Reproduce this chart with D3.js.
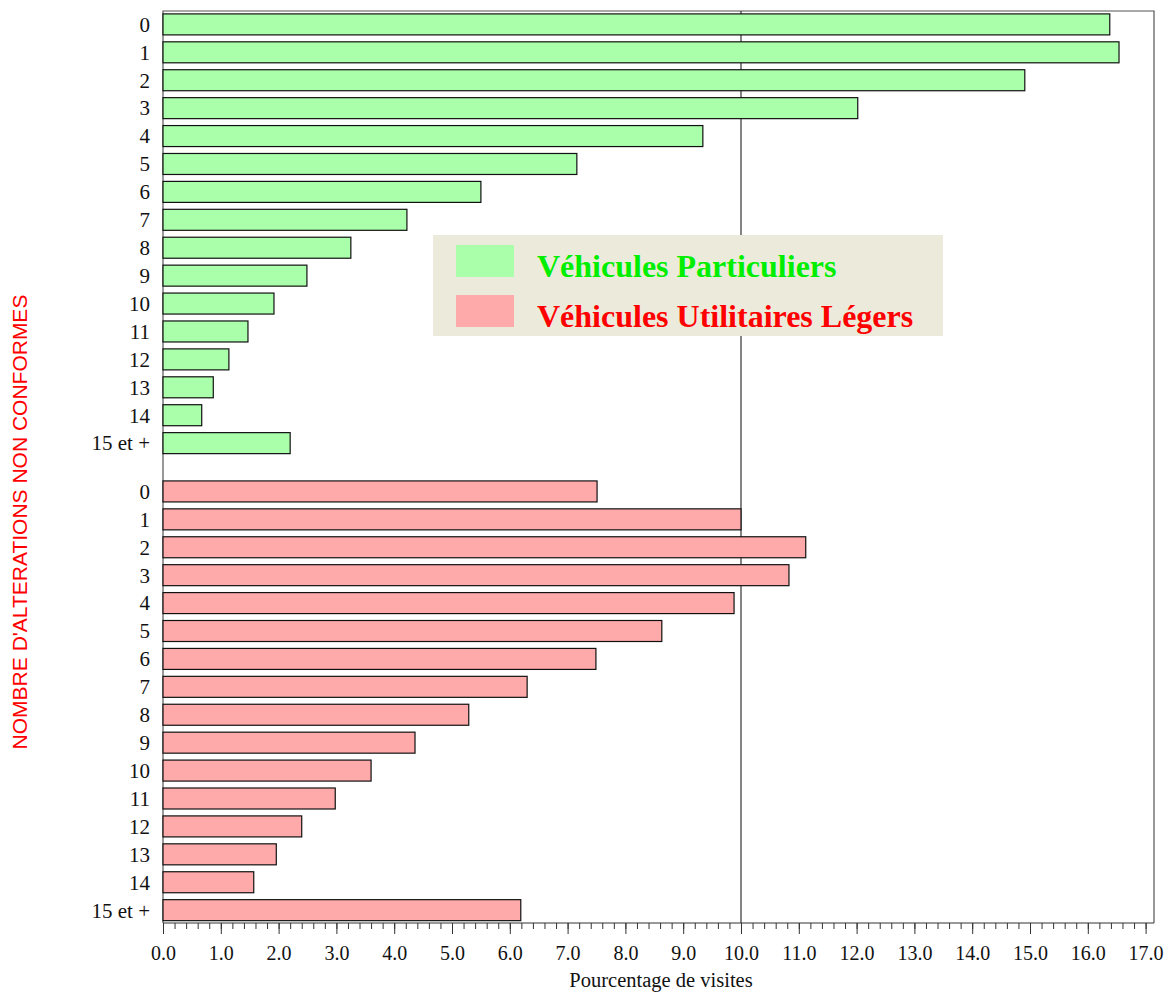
<!DOCTYPE html>
<html>
<head>
<meta charset="utf-8">
<script src="https://cdn.jsdelivr.net/npm/d3@7"></script>
<style>
  body { margin: 0; background: #fff; }
  .tick text { font-family: "Liberation Serif", "Times New Roman", serif; }
</style>
</head>
<body>
<div id="chart"></div>
<script>
var categories = ['0', '1', '2', '3', '4', '5', '6', '7', '8', '9', '10', '11', '12', '13', '14', '15 et +']
var vpValues = [16.38, 16.54, 14.91, 12.02, 9.34, 7.16, 5.50, 4.22, 3.25, 2.49, 1.92, 1.47, 1.14, 0.87, 0.67, 2.20]
var vulValues = [7.51, 10.0, 11.12, 10.83, 9.88, 8.63, 7.49, 6.30, 5.29, 4.36, 3.60, 2.98, 2.40, 1.96, 1.57, 6.19]
var xTicks = d3.range(0, 18, 1)
var seriesNames = ['Véhicules Particuliers', 'Véhicules Utilitaires Légers']

var W = 1169, H = 993
var margin = { top: 11, right: 15, bottom: 70, left: 163 }
var GAP = 0.73 // extra space between the two groups, in rows

var svg = d3.select('#chart').append('svg')
  .attr('width', W)
  .attr('height', H)

var x = d3.scaleLinear().domain([0, 17]).range([margin.left, margin.left + 17 * 57.8])
var y = d3.scaleLinear()
  .domain([-0.48, 2 * categories.length - 1 + GAP + 0.46])
  .range([margin.top, H - margin.bottom])

var barH = 21
var rows = []
categories.forEach(function (c, i) {
  rows.push({ cat: c, v: vpValues[i], pos: i, s: 0 })
})
categories.forEach(function (c, i) {
  rows.push({ cat: c, v: vulValues[i], pos: categories.length + GAP + i, s: 1 })
})
var fills = ['#aaffaa', '#ffaaaa']
var textColors = ['#00ee00', '#ff0000']

var right = 1154
var bottom = H - margin.bottom

// frame
svg.append('path')
  .attr('d', 'M' + margin.left + ',' + bottom + 'V' + margin.top + 'H' + right + 'V' + bottom)
  .attr('fill', 'none')
  .attr('stroke', '#555')
  .attr('stroke-width', 1.2)

// reference line at 10
svg.append('line')
  .attr('x1', x(10)).attr('x2', x(10))
  .attr('y1', margin.top).attr('y2', bottom)
  .attr('stroke', '#333')
  .attr('stroke-width', 1.2)

// bars
svg.append('g').selectAll('rect')
  .data(rows)
  .join('rect')
  .attr('x', x(0))
  .attr('y', function (d) { return y(d.pos) - barH / 2 })
  .attr('width', function (d) { return x(d.v) - x(0) })
  .attr('height', barH)
  .attr('fill', function (d) { return fills[d.s] })
  .attr('stroke', '#111')
  .attr('stroke-width', 1.2)

// category labels
svg.append('g').selectAll('text')
  .data(rows)
  .join('text')
  .attr('x', 150)
  .attr('y', function (d) { return y(d.pos) })
  .attr('dy', '0.35em')
  .attr('text-anchor', 'end')
  .attr('font-family', '"Liberation Serif", "Times New Roman", serif')
  .attr('font-size', 21)
  .attr('fill', '#111')
  .text(function (d) { return d.cat })

// x axis with minor ticks
var gx = svg.append('g').attr('transform', 'translate(0,' + bottom + ')')
gx.call(d3.axisBottom(x).tickValues(d3.range(0, 17.01, 0.2)).tickSize(6).tickFormat(''))
gx.call(function (g) { g.select('.domain').remove() })
var gx2 = svg.append('g').attr('transform', 'translate(0,' + bottom + ')')
gx2.call(d3.axisBottom(x).tickValues(xTicks).tickSize(11).tickPadding(12).tickFormat(d3.format('.1f')))
gx2.select('.domain').attr('d', 'M' + margin.left + ',0H' + right).attr('stroke', '#333')
svg.selectAll('.tick line').attr('stroke', '#333')
gx2.selectAll('.tick text').attr('font-size', 20).attr('fill', '#111')

svg.append('text')
  .attr('x', 661)
  .attr('y', 987)
  .attr('text-anchor', 'middle')
  .attr('font-family', '"Liberation Serif", "Times New Roman", serif')
  .attr('font-size', 20.5)
  .attr('fill', '#111')
  .text('Pourcentage de visites')

svg.append('text')
  .attr('transform', 'translate(27,' + 522 + ') rotate(-90)')
  .attr('text-anchor', 'middle')
  .attr('font-family', '"Liberation Sans", Arial, sans-serif')
  .attr('font-size', 21)
  .attr('fill', '#ff0000')
  .text("NOMBRE D'ALTERATIONS NON CONFORMES")

// legend
var lg = svg.append('g').attr('transform', 'translate(433,235)')
lg.append('rect')
  .attr('width', 510).attr('height', 101)
  .attr('fill', '#ecebdb')
lg.selectAll('rect.sw')
  .data(seriesNames)
  .join('rect')
  .attr('class', 'sw')
  .attr('x', 23)
  .attr('y', function (d, i) { return 10 + i * 50 })
  .attr('width', 58).attr('height', 32)
  .attr('fill', function (d, i) { return fills[i] })
lg.selectAll('text')
  .data(seriesNames)
  .join('text')
  .attr('x', 104)
  .attr('y', function (d, i) { return 42 + i * 50 })
  .attr('font-family', '"Liberation Serif", "Times New Roman", serif')
  .attr('font-weight', 'bold')
  .attr('font-size', 32)
  .attr('fill', function (d, i) { return textColors[i] })
  .text(function (d) { return d })
</script>
</body>
</html>
